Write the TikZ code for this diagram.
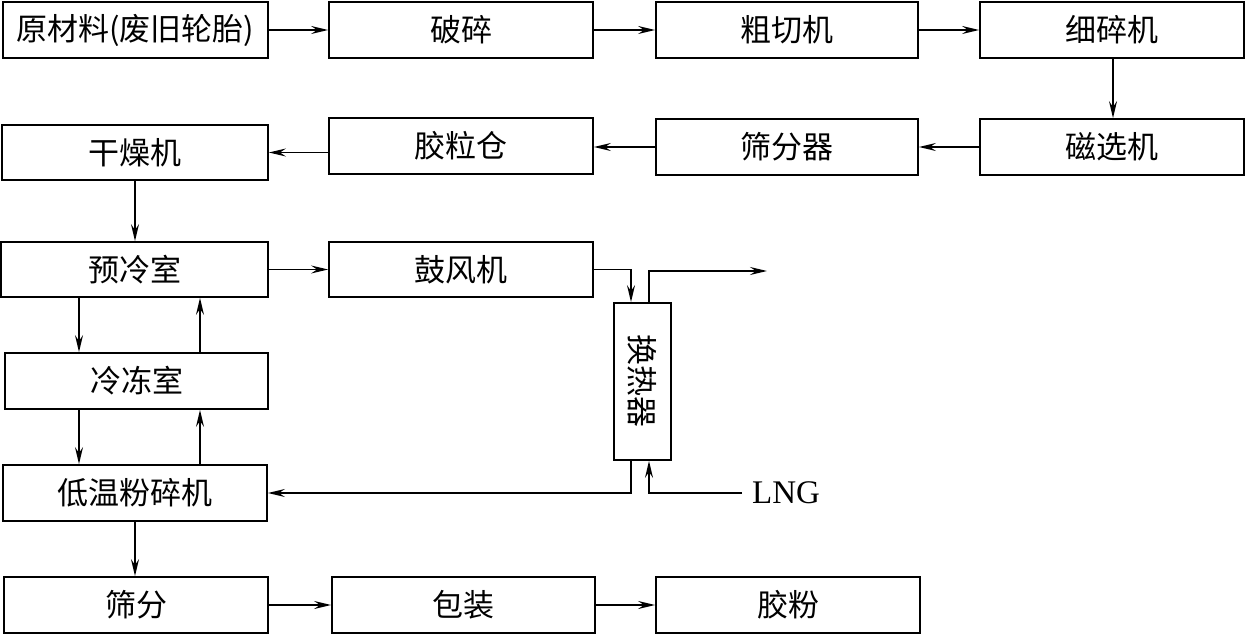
\documentclass[tikz,border=0pt]{standalone}
\usepackage{fontspec}
\setmainfont{Liberation Serif}
\newfontfamily\cjk{Noto Sans CJK SC}
\usetikzlibrary{arrows.meta}
\begin{document}
\begin{tikzpicture}[x=1pt,y=-1pt,
  box/.style={draw, line width=1.8pt, inner sep=0pt, minimum height=56pt,
    font=\cjk\fontsize{31pt}{36pt}\selectfont},
  arr/.style={line width=1.6pt, -{Stealth[length=17pt,width=8pt,inset=6pt]}},
  ln/.style={line width=1.6pt}]
\useasboundingbox (0,0) rectangle (1248,636);
% row 1
\node[box, minimum width=265pt] (a) at (135.5,30) {原材料(废旧轮胎)};
\node[box, minimum width=264pt] (b) at (461,30) {破碎};
\node[box, minimum width=262pt] (c) at (787,30) {粗切机};
\node[box, minimum width=264pt] (d) at (1112,30) {细碎机};
% row 2
\node[box, minimum width=264pt] (e) at (1112,147) {磁选机};
\node[box, minimum width=262pt] (f) at (787,147) {筛分器};
\node[box, minimum width=264pt] (g) at (461,146) {胶粒仓};
\node[box, minimum width=266pt, minimum height=55pt] (h) at (135,152.5) {干燥机};
% row 3
\node[box, minimum width=267pt, minimum height=55pt] (i) at (134.5,269.5) {预冷室};
\node[box, minimum width=264pt, minimum height=55pt] (j) at (461,269.5) {鼓风机};
\node[box, minimum width=57pt, minimum height=157pt] (k) at (642.5,381.5) {\rotatebox{-90}{换热器}};
\node[box, minimum width=263pt] (l) at (136.5,381) {冷冻室};
\node[box, minimum width=264pt] (m) at (135,493) {低温粉碎机};
% bottom row
\node[box, minimum width=264pt] (n) at (136,605) {筛分};
\node[box, minimum width=263pt] (o) at (463.5,605) {包装};
\node[box, minimum width=264pt] (p) at (788,605) {胶粉};
\node[anchor=west, inner sep=0pt, font=\fontsize{33pt}{38pt}\selectfont] (lng) at (752,493) {LNG};
\coordinate (xl) at (79,0);
\coordinate (xr) at (200,0);
\coordinate (xd) at (1113,0);
\coordinate (out) at (767,271);
\coordinate (lngend) at (742,493);
% connectors
\draw[arr] (a) -- (b);
\draw[arr] (b) -- (c);
\draw[arr] (c) -- (d);
\draw[arr] (d.south -| xd) -- (e.north -| xd);
\draw[arr] (e) -- (f);
\draw[arr] (f.west) -- (g.east |- f.west);
\draw[arr] (g.west |- h) -- (h.east);
\draw[arr] (h.south) -- (i.north -| h.south);
\draw[arr] (i.south -| xl) -- (l.north -| xl);
\draw[arr] (l.north -| xr) -- (i.south -| xr);
\draw[arr] (l.south -| xl) -- (m.north -| xl);
\draw[arr] (m.north -| xr) -- (l.south -| xr);
\draw[arr] (m.south) -- (n.north -| m.south);
\draw[arr] (n) -- (o);
\draw[arr] (o) -- (p);
\draw[arr] (i) -- (j);
\draw[arr] (j.east) -| ([xshift=-11.5pt]k.north);
\draw[arr] ([xshift=6.5pt]k.north) |- (out);
\draw[arr] ([xshift=-11.5pt]k.south) |- (m.east);
\draw[arr] (lngend) -| ([xshift=6.5pt]k.south);
\end{tikzpicture}
\end{document}
